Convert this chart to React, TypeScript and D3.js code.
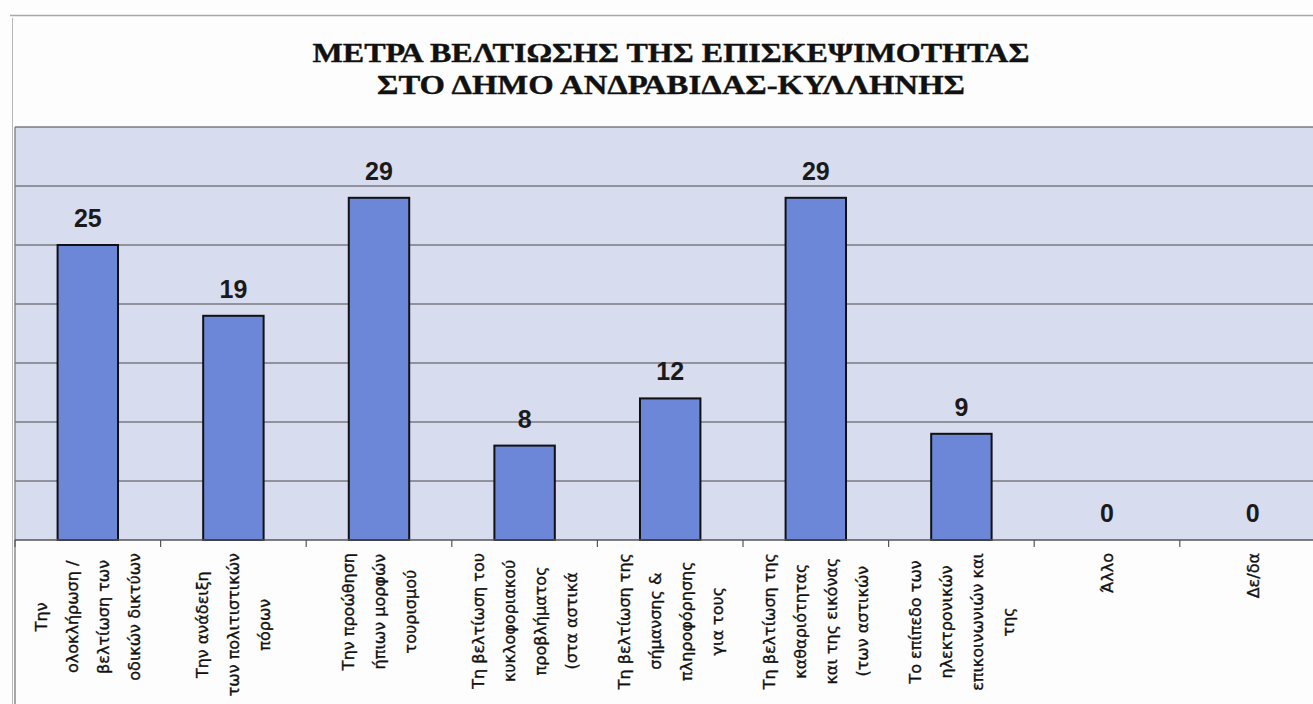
import React, { useEffect, useRef } from "react";
import * as d3 from "d3";

const titleLines = ["ΜΕΤΡΑ ΒΕΛΤΙΩΣΗΣ ΤΗΣ ΕΠΙΣΚΕΨΙΜΟΤΗΤΑΣ", "ΣΤΟ ΔΗΜΟ ΑΝΔΡΑΒΙΔΑΣ-ΚΥΛΛΗΝΗΣ"];

const categories = ["c1", "c2", "c3", "c4", "c5", "c6", "c7", "c8", "c9"];

const categoryLabels: string[][] = [
  ["Την", "ολοκλήρωση /", "βελτίωση των", "οδικών δικτύων"],
  ["Την ανάδειξη", "των πολιτιστικών", "πόρων"],
  ["Την προώθηση", "ήπιων μορφών", "τουρισμού"],
  ["Τη βελτίωση του", "κυκλοφοριακού", "προβλήματος", "(στα αστικά"],
  ["Τη βελτίωση της", "σήμανσης &", "πληροφόρησης", "για τους"],
  ["Τη βελτίωση της", "καθαριότητας", "και της εικόνας", "(των αστικών"],
  ["Το επίπεδο των", "ηλεκτρονικών", "επικοινωνιών και", "της"],
  ["Άλλο"],
  ["Δε/δα"],
];

const values = [25, 19, 29, 8, 12, 29, 9, 0, 0];

const yTicks = [5, 10, 15, 20, 25, 30, 35];

const W = 1313;
const H = 704;

export default function App() {
  const ref = useRef<SVGSVGElement>(null);

  useEffect(() => {
    const svg = d3.select(ref.current);
    svg.selectAll("*").remove();

    const plotLeft = 15;
    const plotTop = 127;
    const plotBottom = 540;
    const step = 145.6;

    const x = d3
      .scaleBand<string>()
      .domain(categories)
      .range([plotLeft, plotLeft + step * categories.length])
      .paddingInner(0.585)
      .paddingOuter(0.2925);

    const y = d3.scaleLinear().domain([0, 35]).range([plotBottom, plotTop]);

    // background
    svg.append("rect").attr("x", 0).attr("y", 0).attr("width", W).attr("height", H).attr("fill", "#fdfdfd");

    // chart frame lines
    svg.append("line").attr("x1", 10).attr("x2", W).attr("y1", 15.5).attr("y2", 15.5)
      .attr("stroke", "#a8a8a8").attr("stroke-width", 1.3);
    svg.append("line").attr("x1", 12.5).attr("x2", 12.5).attr("y1", 18).attr("y2", H)
      .attr("stroke", "#b8b8b8").attr("stroke-width", 1);

    // title
    const titleLen = [717, 588];
    const titleY = [62, 94];
    titleLines.forEach((t, i) => {
      svg.append("text")
        .attr("x", 671 - titleLen[i] / 2)
        .attr("y", titleY[i])
        .attr("textLength", titleLen[i])
        .attr("lengthAdjust", "spacingAndGlyphs")
        .attr("font-family", "'Liberation Serif', 'Times New Roman', serif")
        .attr("font-weight", "bold")
        .attr("font-size", 28)
        .attr("fill", "#111")
        .attr("stroke", "#111")
        .attr("stroke-width", 0.4)
        .text(t);
    });

    // plot area
    svg.append("rect")
      .attr("x", plotLeft).attr("y", plotTop)
      .attr("width", W - plotLeft).attr("height", plotBottom - plotTop)
      .attr("fill", "#d8dcef");

    // gridlines
    svg.append("g").selectAll("line").data(yTicks).join("line")
      .attr("x1", plotLeft).attr("x2", W)
      .attr("y1", (d) => y(d)).attr("y2", (d) => y(d))
      .attr("stroke", "#7a7a80").attr("stroke-width", 1.3);

    // left border of plot
    svg.append("line").attr("x1", plotLeft).attr("x2", plotLeft).attr("y1", plotTop).attr("y2", H)
      .attr("stroke", "#7a7a80").attr("stroke-width", 1.3);

    // bars
    svg.append("g").selectAll("rect").data(values).join("rect")
      .attr("x", (_, i) => x(categories[i])!)
      .attr("y", (d) => y(d))
      .attr("width", x.bandwidth())
      .attr("height", (d) => y(0) - y(d))
      .attr("fill", "#6c87d8")
      .attr("stroke", "#111")
      .attr("stroke-width", 2);

    // value labels
    svg.append("g").selectAll("text").data(values).join("text")
      .attr("x", (_, i) => x(categories[i])! + x.bandwidth() / 2)
      .attr("y", (d) => y(d) - 18)
      .attr("text-anchor", "middle")
      .attr("font-family", "'Liberation Sans', Arial, sans-serif")
      .attr("font-weight", "bold")
      .attr("font-size", 25)
      .attr("fill", "#1a1a1a")
      .text((d) => String(d));

    // x axis
    const axisG = svg.append("g").attr("transform", `translate(0,${plotBottom})`);
    axisG.append("line").attr("x1", plotLeft).attr("x2", W).attr("y1", 0).attr("y2", 0)
      .attr("stroke", "#555").attr("stroke-width", 1.5);
    const boundaries = d3.range(categories.length + 1).map((i) => plotLeft + i * x.step());
    axisG.selectAll("line.tick").data(boundaries).join("line")
      .attr("class", "tick")
      .attr("x1", (d) => d).attr("x2", (d) => d)
      .attr("y1", 0).attr("y2", 7)
      .attr("stroke", "#555").attr("stroke-width", 1.2);

    // category labels (rotated, top-aligned block, centered lines)
    const lineGap = 31;
    const labelTop = 553;
    categoryLabels.forEach((lines, ci) => {
      const cx = x(categories[ci])! + x.bandwidth() / 2;
      const g = svg.append("g");
      const texts = lines.map((ln, li) => {
        const lx = cx + (li - (lines.length - 1) / 2) * lineGap;
        return g.append("text")
          .attr("font-family", "'DejaVu Sans', sans-serif")
          .attr("font-size", 16)
          .attr("fill", "#111")
          .attr("stroke", "#111")
          .attr("stroke-width", 0.35)
          .attr("text-anchor", "middle")
          .attr("data-x", lx)
          .text(ln);
      });
      const lens = texts.map((t) => (t.node() as SVGTextElement).getComputedTextLength());
      const maxLen = d3.max(lens) ?? 0;
      const cy = labelTop + maxLen / 2;
      texts.forEach((t) => {
        const lx = +t.attr("data-x");
        t.attr("transform", `translate(${lx + 6},${cy}) rotate(-90)`);
      });
    });
  }, []);

  return (
    <div style={{ position: "fixed", left: 0, top: 0, width: W, height: H, overflow: "hidden" }}>
      <svg ref={ref} width={W} height={H} style={{ display: "block" }} />
    </div>
  );
}
